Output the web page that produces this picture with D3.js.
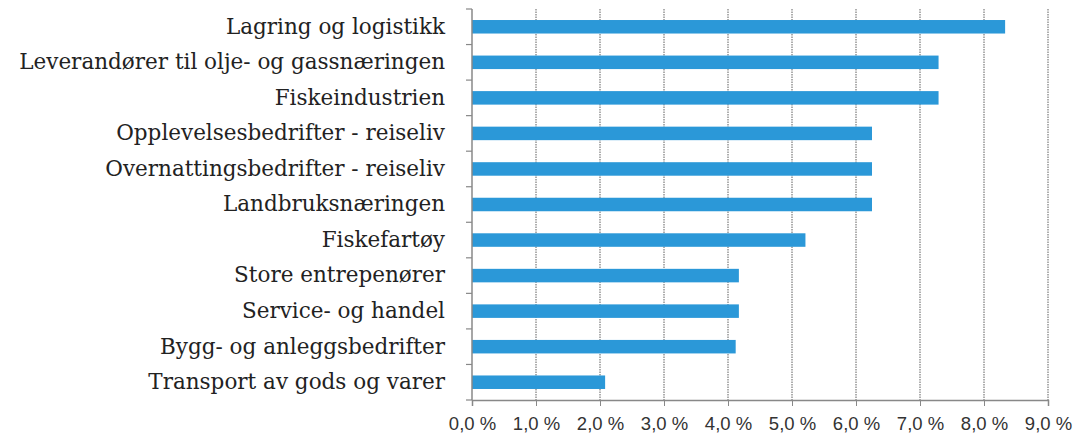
<!DOCTYPE html>
<html>
<head>
<meta charset="utf-8">
<script src="https://cdn.jsdelivr.net/npm/d3@7"></script>
<style>
body { margin: 0; background: #fff; }
svg { display: block; }
</style>
</head>
<body>
<svg id="chart"></svg>
<script>
// data
var categories = [
  "Lagring og logistikk",
  "Leverandører til olje- og gassnæringen",
  "Fiskeindustrien",
  "Opplevelsesbedrifter - reiseliv",
  "Overnattingsbedrifter - reiseliv",
  "Landbruksnæringen",
  "Fiskefartøy",
  "Store entrepenører",
  "Service- og handel",
  "Bygg- og anleggsbedrifter",
  "Transport av gods og varer"
];
var values = [8.33, 7.29, 7.29, 6.25, 6.25, 6.25, 5.21, 4.17, 4.17, 4.12, 2.08];
var xTicks = [0, 1, 2, 3, 4, 5, 6, 7, 8, 9];

var margin = {top: 9, right: 31, bottom: 36, left: 472};
var width = 1079 - margin.left - margin.right;
var height = 436 - margin.top - margin.bottom;

var svg = d3.select("#chart")
  .attr("width", 1079)
  .attr("height", 436);

var g = svg.append("g")
  .attr("transform", "translate(" + margin.left + "," + margin.top + ")");

var x = d3.scaleLinear().domain([0, 9]).range([0, width]);
var y = d3.scaleBand().domain(categories).range([0, height]).paddingInner(0.62).paddingOuter(0.31);

// vertical dotted gridlines
g.selectAll(".grid")
  .data(xTicks.slice(1))
  .enter()
  .append("line")
  .attr("x1", function(d){ return x(d); })
  .attr("x2", function(d){ return x(d); })
  .attr("y1", 0)
  .attr("y2", height)
  .style("stroke", "#5f5f5f")
  .style("stroke-width", 1)
  .style("stroke-dasharray", "1.5,1");

// bars
g.selectAll("rect")
  .data(values)
  .enter()
  .append("rect")
  .attr("x", 0)
  .attr("y", function(d, i){ return y(categories[i]); })
  .attr("width", function(d){ return x(d); })
  .attr("height", y.bandwidth())
  .style("fill", "#2b98d8");

// x axis
var xAxis = d3.axisBottom(x)
  .tickValues(xTicks)
  .tickSize(6)
  .tickFormat(function(d){ return d.toFixed(1).replace(".", ",") + " %"; });

var xg = g.append("g")
  .attr("transform", "translate(0," + height + ")")
  .call(xAxis);
xg.select(".domain").style("stroke", "#888").style("stroke-width", 1.5);
xg.selectAll(".tick line").style("stroke", "#888");
xg.selectAll(".tick text")
  .attr("dy", 0)
  .attr("y", 30)
  .style("font-family", "'Liberation Sans', Arial, sans-serif")
  .style("font-size", "18.5px")
  .style("fill", "#333");

// y axis: labels only, boundary ticks drawn separately
var yAxis = d3.axisLeft(y).tickSize(0).tickPadding(27);
var yg = g.append("g").call(yAxis);
yg.select(".domain").remove();
yg.selectAll(".tick text")
  .style("font-family", "'DejaVu Serif', 'Liberation Serif', serif")
  .style("font-size", "21.5px")
  .style("fill", "#222");

g.append("line")
  .attr("x1", 0).attr("x2", 0)
  .attr("y1", 0).attr("y2", height)
  .style("stroke", "#888")
  .style("stroke-width", 1.5);

// small ticks between the categories
g.selectAll(".ytick")
  .data(d3.range(categories.length + 1))
  .enter()
  .append("line")
  .attr("x1", -6).attr("x2", 0)
  .attr("y1", function(i){ return i * height / categories.length; })
  .attr("y2", function(i){ return i * height / categories.length; })
  .style("stroke", "#888")
  .style("stroke-width", 1.2);
</script>
</body>
</html>
